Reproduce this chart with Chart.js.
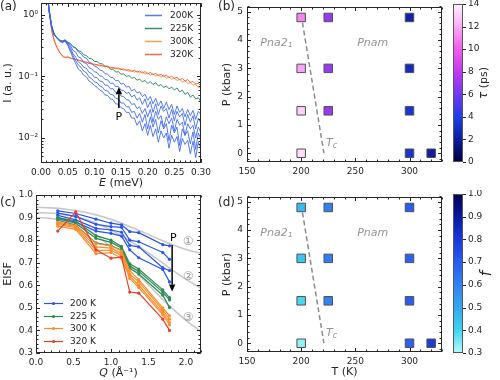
<!DOCTYPE html>
<html><head><meta charset="utf-8">
<script src="https://cdn.jsdelivr.net/npm/chart.js@4.4.1/dist/chart.umd.min.js"></script>
<style>
html,body{margin:0;padding:0;background:#fff;}
#wrap{position:relative;width:500px;height:380px;overflow:hidden;background:#fff;}
#wrap canvas{position:absolute;}
</style></head><body>
<div id="wrap">
<canvas id="cA" width="215" height="190" style="left:0px;top:0px"></canvas>
<canvas id="cB" width="235" height="190" style="left:215px;top:0px"></canvas>
<canvas id="cBb" width="55" height="190" style="left:445px;top:0px"></canvas>
<canvas id="cC" width="215" height="190" style="left:0px;top:190px"></canvas>
<canvas id="cD" width="235" height="190" style="left:215px;top:190px"></canvas>
<canvas id="cDb" width="55" height="190" style="left:445px;top:190px"></canvas>
</div>
<script>
// ================= DATA =================
// (a) quasielastic spectra, E in meV
const E_meV = [0.010,0.015,0.020,0.025,0.030,0.035,0.040,0.045,0.050,0.055,0.060,0.065,0.070,0.075,0.080,0.085,0.090,0.095,0.100,0.105,0.110,0.115,0.120,0.125,0.130,0.135,0.140,0.145,0.150,0.155,0.160,0.165,0.170,0.175,0.180,0.185,0.190,0.195,0.200,0.205,0.210,0.215,0.220,0.225,0.230,0.235,0.240,0.245,0.250,0.255,0.260,0.265,0.270,0.275,0.280,0.285,0.290,0.295,0.300];
const I_200K_1 = [3.5,1.2,0.64,0.47,0.42,0.39,0.37,0.395,0.365,0.345,0.305,0.285,0.25,0.235,0.205,0.198,0.172,0.163,0.148,0.142,0.127,0.124,0.111,0.109,0.097,0.096,0.085,0.086,0.075,0.077,0.067,0.069,0.058,0.062,0.054,0.056,0.047,0.051,0.041,0.047,0.036,0.044,0.033,0.040,0.030,0.038,0.029,0.035,0.024,0.033,0.026,0.030,0.022,0.029,0.023,0.028,0.020,0.027,0.024];
const I_200K_2 = [3.5,1.2,0.64,0.47,0.42,0.385,0.365,0.39,0.35,0.32,0.265,0.25,0.208,0.199,0.168,0.163,0.139,0.133,0.119,0.116,0.102,0.1,0.089,0.088,0.077,0.078,0.068,0.069,0.06,0.059,0.053,0.055,0.046,0.05,0.041,0.045,0.035,0.043,0.031,0.039,0.026,0.036,0.024,0.033,0.027,0.03,0.021,0.029,0.019,0.027,0.022,0.025,0.016,0.024,0.018,0.023,0.014,0.021,0.017];
const I_200K_3 = [3.5,1.2,0.64,0.47,0.42,0.38,0.365,0.385,0.345,0.295,0.235,0.205,0.172,0.161,0.141,0.136,0.116,0.111,0.097,0.096,0.084,0.083,0.072,0.072,0.063,0.063,0.055,0.055,0.048,0.047,0.042,0.041,0.035,0.036,0.03,0.032,0.025,0.03,0.022,0.029,0.018,0.027,0.02,0.023,0.015,0.022,0.017,0.021,0.013,0.02,0.016,0.018,0.011,0.017,0.014,0.016,0.01,0.015,0.012];
const I_200K_4 = [3.5,1.2,0.64,0.47,0.42,0.38,0.36,0.38,0.335,0.27,0.218,0.18,0.153,0.141,0.122,0.115,0.098,0.092,0.082,0.079,0.07,0.067,0.059,0.058,0.051,0.05,0.044,0.043,0.037,0.037,0.032,0.032,0.026,0.027,0.021,0.025,0.018,0.024,0.014,0.022,0.015,0.02,0.012,0.019,0.014,0.017,0.009,0.016,0.012,0.015,0.0075,0.014,0.011,0.013,0.008,0.0125,0.0065,0.012,0.0095];
const I_200K_5 = [3.5,1.2,0.64,0.47,0.42,0.375,0.355,0.375,0.325,0.255,0.2,0.162,0.131,0.122,0.104,0.099,0.084,0.079,0.071,0.067,0.06,0.057,0.05,0.049,0.043,0.042,0.036,0.035,0.031,0.03,0.026,0.026,0.021,0.021,0.016,0.019,0.013,0.017,0.011,0.016,0.0105,0.014,0.0085,0.013,0.01,0.012,0.0068,0.011,0.0085,0.0105,0.006,0.0098,0.0078,0.0092,0.0055,0.0088,0.0048,0.0085,0.0068];
const I_225K = [3.5,1.3,0.68,0.49,0.43,0.39,0.38,0.39,0.355,0.34,0.305,0.295,0.26,0.255,0.225,0.22,0.196,0.194,0.176,0.175,0.161,0.16,0.147,0.146,0.131,0.131,0.118,0.119,0.109,0.11,0.1,0.103,0.094,0.096,0.087,0.09,0.082,0.086,0.077,0.082,0.074,0.079,0.07,0.074,0.066,0.07,0.063,0.067,0.06,0.065,0.056,0.06,0.051,0.055,0.046,0.05,0.043,0.045,0.039];
const I_300K = [3.5,1.15,0.55,0.37,0.29,0.25,0.21,0.2,0.212,0.197,0.198,0.186,0.188,0.176,0.178,0.167,0.169,0.157,0.16,0.152,0.155,0.146,0.149,0.141,0.142,0.135,0.138,0.131,0.134,0.126,0.13,0.121,0.126,0.117,0.122,0.113,0.119,0.109,0.114,0.105,0.11,0.101,0.106,0.097,0.103,0.094,0.098,0.09,0.094,0.086,0.09,0.081,0.085,0.077,0.079,0.072,0.074,0.066,0.068];
const I_320K = [3.5,1.2,0.58,0.38,0.3,0.245,0.22,0.205,0.205,0.2,0.192,0.19,0.182,0.18,0.172,0.171,0.162,0.163,0.154,0.157,0.148,0.151,0.143,0.146,0.138,0.141,0.134,0.137,0.129,0.133,0.125,0.129,0.12,0.126,0.117,0.123,0.114,0.12,0.11,0.116,0.107,0.112,0.103,0.109,0.1,0.105,0.096,0.101,0.093,0.097,0.088,0.093,0.084,0.089,0.08,0.083,0.075,0.077,0.07];
const A_xTicks = [0, 0.05, 0.10, 0.15, 0.20, 0.25, 0.30];
const A_yTicks = [0.01, 0.1, 1];
const A_yLabels = ['10\u207B\u00B2', '10\u207B\u00B9', '10\u2070'];
const A_legend = ['200K', '225K', '300K', '320K'];

// (b)/(d) phase diagram points
const T_K     = [200, 200, 200, 200, 225, 225, 225, 300, 300, 300, 300, 320];
const P_kbar  = [4.8, 3.0, 1.5, 0.0, 4.8, 3.0, 1.5, 4.8, 3.0, 1.5, 0.0, 0.0];
const tau_ps  = [11.0, 11.8, 13.0, 13.4, 7.0, 7.0, 7.0, 2.4, 2.8, 3.4, 3.4, 2.2];
const f_frac  = [0.46, 0.43, 0.39, 0.33, 0.61, 0.61, 0.60, 0.70, 0.69, 0.70, 0.69, 0.79];
const Tc_T = [200, 221];
const Tc_P = [4.9, 0.0];
const B_xTicks = [150, 200, 250, 300];
const B_yTicks = [0, 1, 2, 3, 4, 5];
const tauTicks = [0, 2, 4, 6, 8, 10, 12, 14];
const fTicks = [0.3, 0.4, 0.5, 0.6, 0.7, 0.8, 0.9, 1.0];

// (c) EISF
const Q_pts = [0.29, 0.53, 0.80, 1.00, 1.14, 1.25, 1.37, 1.69, 1.78];
const EISF_200K_1 = [0.930, 0.918, 0.893, 0.875, 0.868, 0.838, 0.833, 0.780, 0.775];
const EISF_200K_2 = [0.920, 0.905, 0.870, 0.860, 0.857, 0.800, 0.793, 0.745, 0.715];
const EISF_200K_3 = [0.910, 0.890, 0.852, 0.845, 0.835, 0.777, 0.770, 0.678, 0.665];
const EISF_200K_4 = [0.900, 0.880, 0.840, 0.830, 0.818, 0.757, 0.722, 0.670, 0.615];
const EISF_225K_1 = [0.900, 0.885, 0.820, 0.800, 0.772, 0.695, 0.672, 0.580, 0.545];
const EISF_225K_2 = [0.895, 0.875, 0.808, 0.790, 0.765, 0.685, 0.662, 0.570, 0.535];
const EISF_225K_3 = [0.888, 0.866, 0.788, 0.776, 0.755, 0.675, 0.650, 0.556, 0.502];
const EISF_300K_1 = [0.880, 0.865, 0.785, 0.775, 0.752, 0.665, 0.625, 0.500, 0.465];
const EISF_300K_2 = [0.875, 0.860, 0.770, 0.765, 0.742, 0.650, 0.615, 0.490, 0.450];
const EISF_300K_3 = [0.870, 0.855, 0.755, 0.755, 0.732, 0.640, 0.600, 0.480, 0.435];
const EISF_300K_4 = [0.862, 0.848, 0.740, 0.745, 0.720, 0.630, 0.590, 0.470, 0.425];
const EISF_320K   = [0.840, 0.925, 0.757, 0.720, 0.725, 0.570, 0.565, 0.450, 0.400];
const Q_fit = [0.0, 0.2, 0.4, 0.6, 0.8, 1.0, 1.2, 1.4, 1.6, 1.8, 2.0, 2.2];
const fit_1 = [0.945, 0.943, 0.937, 0.927, 0.912, 0.892, 0.867, 0.839, 0.810, 0.782, 0.759, 0.742];
const fit_2 = [0.922, 0.920, 0.912, 0.897, 0.875, 0.845, 0.808, 0.766, 0.720, 0.672, 0.626, 0.587];
const fit_3 = [0.900, 0.896, 0.884, 0.860, 0.822, 0.770, 0.707, 0.637, 0.567, 0.502, 0.445, 0.395];
const C_xTicks = [0.0, 0.5, 1.0, 1.5, 2.0];
const C_yTicks = [0.3, 0.4, 0.5, 0.6, 0.7, 0.8, 0.9, 1.0];
const C_legend = ['200 K', '225 K', '300 K', '320 K'];

// ================= STYLE / HELPERS =================
const FAM = "'DejaVu Sans', 'Liberation Sans', sans-serif";
const F = (size, style) => (style ? style + ' ' : '') + size + 'px ' + FAM;
const INK = '#262626';
const colA = {b: 'rgba(55,100,240,0.85)', g: 'rgba(45,135,95,0.95)', o: 'rgba(255,150,60,0.9)', r: 'rgba(240,80,50,0.85)'};
const colC = {b: '#2a55f0', g: '#2e8b57', o: '#ff8c2a', r: '#f03c28'};
const tauStops = [[0,[0,0,64]],[2,[12,28,155]],[4,[30,62,232]],[6,[112,58,240]],[8,[192,58,240]],[10,[240,92,234]],[12,[250,172,245]],[14,[255,243,255]]];
const fStops = [[0.3,[182,252,250]],[0.4,[62,212,240]],[0.5,[52,170,240]],[0.6,[50,130,240]],[0.7,[42,92,240]],[0.8,[26,56,220]],[0.9,[10,26,160]],[1.0,[0,0,80]]];
function cmap(stops, v) {
  if (v <= stops[0][0]) return 'rgb(' + stops[0][1].join(',') + ')';
  for (let i = 1; i < stops.length; i++) {
    if (v <= stops[i][0]) {
      const t = (v - stops[i-1][0]) / (stops[i][0] - stops[i-1][0]);
      const c = stops[i-1][1].map((a, k) => Math.round(a + t * (stops[i][1][k] - a)));
      return 'rgb(' + c.join(',') + ')';
    }
  }
  return 'rgb(' + stops[stops.length-1][1].join(',') + ')';
}
function steps(a, b, s) { const o = []; for (let k = 0; a + k * s <= b + 1e-9; k++) o.push(+(a + k * s).toFixed(6)); return o; }
const pts = (xs, ys) => xs.map((x, i) => ({x: x, y: ys[i]}));

function axis(kind, type, min, max, ticks, fmt, size, pad, pos) {
  const isX = kind === 'x';
  return {
    type: type, min: min, max: max, position: pos || (isX ? 'bottom' : 'left'),
    grid: {display: false, drawTicks: false}, border: {display: false},
    ticks: {font: {family: FAM, size: 9}, color: INK, padding: pad, autoSkip: false, maxRotation: 0, minRotation: 0,
            callback: (v) => fmt(v)},
    afterBuildTicks: s => { s.ticks = ticks.map(v => ({value: v})); },
    afterFit: s => {
      if (isX) { s.height = size; s.paddingLeft = 0; s.paddingRight = 0; }
      else { s.width = size; s.paddingTop = 0; s.paddingBottom = 0; }
    }
  };
}
function baseOpts(scales, padding) {
  return {responsive: false, animation: false, events: [], devicePixelRatio: 1,
    layout: {padding: padding}, plugins: {legend: {display: false}, tooltip: {enabled: false}},
    scales: scales};
}
function rich(ctx, parts, x, y, align, rot) {
  ctx.save(); ctx.translate(x, y); if (rot) ctx.rotate(rot);
  ctx.textBaseline = 'middle'; ctx.textAlign = 'left';
  let w = 0; parts.forEach(p => { ctx.font = p[1]; w += ctx.measureText(p[0]).width; });
  let cx = align === 'center' ? -w / 2 : (align === 'right' ? -w : 0);
  parts.forEach(p => { ctx.font = p[1]; ctx.fillText(p[0], cx, p[2] || 0); cx += ctx.measureText(p[0]).width; });
  ctx.restore();
}
function frame(ctx, a, xs, ys, xMaj, xMin, yMaj, yMin) {
  ctx.save(); ctx.strokeStyle = INK; ctx.lineWidth = 1;
  const L = Math.round(a.left) + 0.5, R = Math.round(a.right) - 0.5, T = Math.round(a.top) + 0.5, B = Math.round(a.bottom) - 0.5;
  ctx.beginPath();
  const xt = (vals, len) => vals.forEach(v => { const p = Math.round(xs.getPixelForValue(v)) + 0.5; if (p < L - 1 || p > R + 1) return; ctx.moveTo(p, B); ctx.lineTo(p, B - len); ctx.moveTo(p, T); ctx.lineTo(p, T + len); });
  const yt = (vals, len) => vals.forEach(v => { const p = Math.round(ys.getPixelForValue(v)) + 0.5; if (p < T - 1 || p > B + 1) return; ctx.moveTo(L, p); ctx.lineTo(L + len, p); ctx.moveTo(R, p); ctx.lineTo(R - len, p); });
  xt(xMaj, 3.5); xt(xMin, 2); yt(yMaj, 3.5); yt(yMin, 2);
  ctx.stroke();
  ctx.strokeRect(L, T, R - L, B - T);
  ctx.restore();
}
function arrow(ctx, x1, y1, x2, y2) {
  ctx.save(); ctx.strokeStyle = '#000'; ctx.fillStyle = '#000'; ctx.lineWidth = 1.5;
  const ang = Math.atan2(y2 - y1, x2 - x1), hl = 7, hw = 3.2;
  const bx = x2 - hl * Math.cos(ang), by = y2 - hl * Math.sin(ang);
  ctx.beginPath(); ctx.moveTo(x1, y1); ctx.lineTo(bx, by); ctx.stroke();
  ctx.beginPath(); ctx.moveTo(x2, y2);
  ctx.lineTo(bx + hw * Math.sin(ang), by - hw * Math.cos(ang));
  ctx.lineTo(bx - hw * Math.sin(ang), by + hw * Math.cos(ang));
  ctx.closePath(); ctx.fill(); ctx.restore();
}
const decor = fn => ({id: 'decor', afterDraw(chart) { const c = chart.ctx; c.save(); fn(chart, c, chart.scales.x, chart.scales.y, chart.chartArea); c.restore(); }});

// ================= (a) =================
const logMinor = [];
[-3, -2, -1, 0].forEach(d => { for (let m = 2; m <= 9; m++) { const v = m * Math.pow(10, d); if (v >= 0.0039 && v <= 1.567) logMinor.push(v); } });
const lineA = (ys, col, ord) => ({data: pts(E_meV, ys), borderColor: col, borderWidth: 1, pointRadius: 0, tension: 0, order: ord});
new Chart(document.getElementById('cA'), {
  type: 'line',
  data: {datasets: [
    lineA(I_225K, colA.g, 5), lineA(I_300K, colA.o, 4), lineA(I_320K, colA.r, 3),
    lineA(I_200K_1, colA.b, 1), lineA(I_200K_2, colA.b, 1), lineA(I_200K_3, colA.b, 1), lineA(I_200K_4, colA.b, 1), lineA(I_200K_5, colA.b, 1)
  ]},
  options: baseOpts({
    x: axis('x', 'linear', 0, 0.3, A_xTicks, v => v.toFixed(2), 27, 4),
    y: axis('y', 'logarithmic', 0.0039, 1.567, A_yTicks, v => A_yLabels[A_yTicks.findIndex(t => Math.abs(t - v) < 1e-9)] || '', 41, 3)
  }, {left: 0, top: 3, right: 14, bottom: 0}),
  plugins: [decor((ch, ctx, xs, ys, a) => {
    frame(ctx, a, xs, ys, A_xTicks, steps(0, 0.3, 0.01), A_yTicks, logMinor);
    ctx.fillStyle = INK;
    rich(ctx, [['(a)', F(12)]], 0, 7, 'left');
    rich(ctx, [['E', F(11, 'italic')], [' (meV)', F(11)]], (a.left + a.right) / 2, 183, 'center');
    rich(ctx, [['I (a. u.)', F(11)]], 8, (a.top + a.bottom) / 2, 'center', -Math.PI / 2);
    const legCols = [colA.b, colA.g, colA.o, colA.r];
    A_legend.forEach((t, i) => {
      const y = Math.round(15 + i * 13) + 0.5;
      ctx.strokeStyle = legCols[i]; ctx.lineWidth = 1.5;
      ctx.beginPath(); ctx.moveTo(145, y); ctx.lineTo(162, y); ctx.stroke();
      ctx.fillStyle = INK; rich(ctx, [[t, F(9)]], 170, y, 'left');
    });
    const ax = xs.getPixelForValue(0.146);
    arrow(ctx, ax, ys.getPixelForValue(0.0307), ax, ys.getPixelForValue(0.0667));
    ctx.fillStyle = '#000'; rich(ctx, [['P', F(11)]], ax, ys.getPixelForValue(0.0215), 'center');
  })]
});

// ================= (b) and (d) =================
function phaseChart(id, values, stops, showXTitle, label) {
  new Chart(document.getElementById(id), {
    type: 'scatter',
    data: {datasets: [
      {data: pts(T_K, P_kbar), pointStyle: 'rect', pointRadius: 6, pointBackgroundColor: values.map(v => cmap(stops, v)),
       pointBorderColor: '#505050', pointBorderWidth: 1, order: 0, clip: false},
      {data: pts(Tc_T, Tc_P), showLine: true, borderColor: '#8c8c8c', borderWidth: 1.5, borderDash: [5, 3], pointRadius: 0, order: 1}
    ]},
    options: baseOpts({
      x: axis('x', 'linear', 150, 330, B_xTicks, v => String(v), 28, 4),
      y: axis('y', 'linear', -0.31, 5.17, B_yTicks, v => String(v), 32, 4)
    }, {left: 0, top: 4, right: 8, bottom: 0}),
    plugins: [decor((ch, ctx, xs, ys, a) => {
      frame(ctx, a, xs, ys, B_xTicks, steps(150, 330, 10), B_yTicks, steps(-0.2, 5.2, 0.2));
      ctx.fillStyle = INK;
      rich(ctx, [[label, F(12)]], 3, id === 'cB' ? 7 : 13, 'left');
      rich(ctx, [['P (kbar)', F(11)]], 12, (a.top + a.bottom) / 2, 'center', -Math.PI / 2);
      if (showXTitle) rich(ctx, [['T (K)', F(11)]], (a.left + a.right) / 2, 182, 'center');
      ctx.fillStyle = '#959595';
      rich(ctx, [['Pna2', F(11, 'italic')], ['\u2081', F(11, 'italic'), 1]], xs.getPixelForValue(177), ys.getPixelForValue(3.9), 'center');
      rich(ctx, [['Pnam', F(11, 'italic')]], xs.getPixelForValue(266), ys.getPixelForValue(3.9), 'center');
      rich(ctx, [['T', F(11, 'italic')], ['c', F(8, 'italic'), 3]], xs.getPixelForValue(228), ys.getPixelForValue(0.35), 'center');
    })]
  });
}
phaseChart('cB', tau_ps, tauStops, false, '(b)');
phaseChart('cD', f_frac, fStops, true, '(d)');

function colorbar(id, stops, vmin, vmax, ticks, fmt, bottomPad, labelFn) {
  new Chart(document.getElementById(id), {
    type: 'scatter', data: {datasets: []},
    options: baseOpts({
      x: {display: false, min: 0, max: 1},
      y: axis('y', 'linear', vmin, vmax, ticks, fmt, 37, 5, 'right')
    }, {left: 8, top: 4, right: 0, bottom: bottomPad}),
    plugins: [decor((ch, ctx, xs, ys, a) => {
      const g = ctx.createLinearGradient(0, a.bottom, 0, a.top);
      stops.forEach(s => g.addColorStop((s[0] - vmin) / (vmax - vmin), cmap(stops, s[0])));
      ctx.fillStyle = g; ctx.fillRect(a.left, a.top, a.right - a.left, a.bottom - a.top);
      ctx.strokeStyle = '#555'; ctx.lineWidth = 1;
      ctx.strokeRect(Math.round(a.left) + 0.5, Math.round(a.top) + 0.5, Math.round(a.right - a.left) - 1, Math.round(a.bottom - a.top) - 1);
      ctx.strokeStyle = INK; ctx.beginPath();
      ticks.forEach(v => { const p = Math.round(ys.getPixelForValue(v)) + 0.5; ctx.moveTo(a.right, p); ctx.lineTo(a.right + 3, p); });
      ctx.stroke();
      ctx.fillStyle = INK; labelFn(ctx, a);
    })]
  });
}
colorbar('cBb', tauStops, 0, 14, tauTicks, v => String(v), 28, (ctx, a) => {
  rich(ctx, [['\u03C4', F(12, 'italic')], [' (ps)', F(11)]], 39, (a.top + a.bottom) / 2, 'center', -Math.PI / 2);
});
colorbar('cDb', fStops, 0.3, 1.0, fTicks, v => v.toFixed(1), 27, (ctx, a) => {
  rich(ctx, [['f', F(15, 'italic')]], 42, (a.top + a.bottom) / 2, 'center', -Math.PI / 2);
});

// ================= (c) =================
const lineC = (ys, col, ord) => ({data: pts(Q_pts, ys), borderColor: col, backgroundColor: col, borderWidth: 1.2,
  pointRadius: 1.6, pointBorderWidth: 0, pointBackgroundColor: col, tension: 0, order: ord});
const fitC = ys => ({data: pts(Q_fit, ys), borderColor: '#c8c8c8', borderWidth: 1.6, pointRadius: 0, cubicInterpolationMode: 'monotone', order: 10});
new Chart(document.getElementById('cC'), {
  type: 'line',
  data: {datasets: [
    fitC(fit_1), fitC(fit_2), fitC(fit_3),
    lineC(EISF_200K_1, colC.b, 4), lineC(EISF_200K_2, colC.b, 4), lineC(EISF_200K_3, colC.b, 4), lineC(EISF_200K_4, colC.b, 4),
    lineC(EISF_225K_1, colC.g, 3), lineC(EISF_225K_2, colC.g, 3), lineC(EISF_225K_3, colC.g, 3),
    lineC(EISF_300K_1, colC.o, 2), lineC(EISF_300K_2, colC.o, 2), lineC(EISF_300K_3, colC.o, 2), lineC(EISF_300K_4, colC.o, 2),
    lineC(EISF_320K, colC.r, 1)
  ]},
  options: baseOpts({
    x: axis('x', 'linear', 0, 2.2, C_xTicks, v => v.toFixed(1), 27, 4),
    y: axis('y', 'linear', 0.3, 1.0, C_yTicks, v => v.toFixed(1), 36, 3)
  }, {left: 0, top: 5, right: 14, bottom: 0}),
  plugins: [decor((ch, ctx, xs, ys, a) => {
    frame(ctx, a, xs, ys, C_xTicks, steps(0, 2.2, 0.1), C_yTicks, steps(0.3, 1.0, 0.02));
    ctx.fillStyle = INK;
    rich(ctx, [['(c)', F(12)]], 0, 13, 'left');
    rich(ctx, [['Q', F(11, 'italic')], [' (\u00C5', F(11)], ['\u207B\u00B9', F(11)], [')', F(11)]], (a.left + a.right) / 2, 183, 'center');
    rich(ctx, [['EISF', F(11)]], 8, (a.top + a.bottom) / 2, 'center', -Math.PI / 2);
    const legCols = [colC.b, colC.g, colC.o, colC.r];
    C_legend.forEach((t, i) => {
      const y = Math.round(113 + i * 12.6) + 0.5;
      ctx.strokeStyle = legCols[i]; ctx.fillStyle = legCols[i]; ctx.lineWidth = 1.2;
      ctx.beginPath(); ctx.moveTo(44, y); ctx.lineTo(63, y); ctx.stroke();
      ctx.beginPath(); ctx.arc(53.5, y, 1.6, 0, 2 * Math.PI); ctx.fill();
      ctx.fillStyle = INK; rich(ctx, [[t, F(9)]], 70, y, 'left');
    });
    const ax = xs.getPixelForValue(1.815);
    arrow(ctx, ax, ys.getPixelForValue(0.778), ax, ys.getPixelForValue(0.572));
    ctx.fillStyle = '#000'; rich(ctx, [['P', F(11)]], xs.getPixelForValue(1.83), ys.getPixelForValue(0.81), 'center');
    ctx.fillStyle = '#9a9a9a';
    rich(ctx, [['\u2460', F(12)]], xs.getPixelForValue(2.03), ys.getPixelForValue(0.792), 'center');
    rich(ctx, [['\u2461', F(12)]], xs.getPixelForValue(2.03), ys.getPixelForValue(0.636), 'center');
    rich(ctx, [['\u2462', F(12)]], xs.getPixelForValue(2.03), ys.getPixelForValue(0.455), 'center');
  })]
});
</script>
</body></html>
